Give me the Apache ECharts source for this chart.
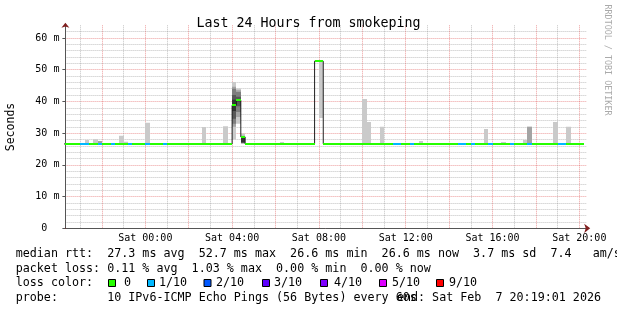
<!DOCTYPE html>
<html><head><meta charset="utf-8">
<script src="https://cdn.jsdelivr.net/npm/echarts@6/dist/echarts.min.js"></script>
<style>html,body{margin:0;padding:0;background:#fff}#c{width:617px;height:310px}</style>
</head><body><div id="c"></div>
<script>
// ---- time axis: hours relative to Sat 00:00 ----
const axisStart = -3.683;   // Fri 20:19:01
const axisEnd = 20.317;     // Sat 20:19:01
const stepH = 0.2;          // 12-minute consolidation step
const dataEnd = 20.2;

// ---- median RTT (ms), change points ----
const segStart  = [-3.8,-3.0,-2.6,-2.2,-2.0,-1.6,-1.4,-0.8,-0.6,0.0,0.2,0.8,1.0,4.0,4.2,4.4,4.6,7.8,8.2,11.4,11.8,12.2,12.4,14.4,14.8,15.0,15.2,15.8,16.0,16.8,17.0,17.6,17.8,19.0,19.4];
const segMedian = [26.6,26.6,26.6,26.6,26.6,26.6,26.6,26.6,26.6,26.6,26.6,26.6,26.6,38.8,40.4,28.8,26.6,52.7,26.6,26.6,26.6,26.6,26.6,26.6,26.6,26.6,26.6,26.6,26.6,26.6,26.6,26.6,26.6,26.6,26.6];
const segLoss   = [0,1,0,1,0,1,0,1,0,1,0,1,0,0,0,0,0,0,0,1,0,1,0,1,0,1,0,1,0,1,0,1,0,1,0];

// ---- smoke: 10 sorted ping times (ms) for steps with visible spread ----
const smokeStart = [-2.8,-2.4,-2.2,-1.2,-1.0,0.0,2.6,3.6,4.0,4.2,4.4,6.2,8.0,10.0,10.2,10.8,12.6,15.6,16.4,17.4,17.6,18.8,19.4];
const smokePings = [
  [26.6,26.6,26.6,26.6,26.6,26.6,26.6,26.6,26.6,27.8],
  [26.6,26.6,26.6,26.6,26.6,26.6,26.6,26.6,26.6,28.1],
  [26.6,26.6,26.6,26.6,26.6,26.6,26.6,26.6,27.5,27.5],
  [26.6,26.6,26.6,26.6,26.6,26.6,26.6,26.6,26.6,29.2],
  [26.6,26.6,26.6,26.6,26.6,26.6,26.6,26.6,26.6,27.3],
  [26.6,26.6,26.6,26.6,26.6,26.6,26.6,26.6,26.6,33.3],
  [26.6,26.6,26.6,26.6,26.6,26.6,26.6,26.6,26.6,31.9],
  [26.6,26.6,26.6,26.6,26.6,26.6,26.6,26.6,26.6,32.2],
  [28.0,32.0,33.0,34.5,37.0,40.5,42.0,44.0,44.6,46.1],
  [33.0,35.1,36.7,38.5,40.0,40.8,41.5,43.0,43.5,44.1],
  [26.6,26.8,26.9,27.0,27.1,29.0,29.1,29.1,29.2,29.9],
  [26.6,26.6,26.6,26.6,26.6,26.6,26.6,26.6,26.6,27.2],
  [34.8,52.7,52.7,52.7,52.7,52.7,52.7,52.7,52.7,52.7],
  [26.6,26.6,26.6,26.6,26.6,26.6,26.6,26.6,26.6,40.8],
  [26.6,26.6,26.6,26.6,26.6,26.6,26.6,26.6,26.6,33.5],
  [26.6,26.6,26.6,26.6,26.6,26.6,26.6,26.6,26.6,32.0],
  [26.6,26.6,26.6,26.6,26.6,26.6,26.6,26.6,26.6,27.5],
  [26.6,26.6,26.6,26.6,26.6,26.6,26.6,26.6,26.6,31.3],
  [26.6,26.6,26.6,26.6,26.6,26.6,26.6,26.6,26.6,27.2],
  [26.6,26.6,26.6,26.6,26.6,26.6,26.6,26.6,26.6,27.8],
  [26.6,26.6,26.6,26.6,26.6,26.6,26.6,26.6,32.0,32.0],
  [26.6,26.6,26.6,26.6,26.6,26.6,26.6,26.6,26.6,33.5],
  [26.6,26.6,26.6,26.6,26.6,26.6,26.6,26.6,26.6,32.0]
];

// ---- ticks / labels ----
const xMinorHours = [-3,-1,1,3,5,7,9,11,13,15,17,19];
const xMajorHours = [-2,0,2,4,6,8,10,12,14,16,18,20];
const xLabelHours = [0,4,8,12,16,20];
const xLabelText  = ['Sat 00:00','Sat 04:00','Sat 08:00','Sat 12:00','Sat 16:00','Sat 20:00'];
const yMinorTicks = [2,4,6,8,12,14,16,18,22,24,26,28,32,34,36,38,42,44,46,48,52,54,56,58,62];
const yLabelValues = [0,10,20,30,40,50,60];
const yLabelText   = ['0  ','10 m','20 m','30 m','40 m','50 m','60 m'];

// ---- legend ----
const lossColors = ['#26ff00','#00b8ff','#0059ff','#5e00ff','#7e00ff','#dd00ff','#ff0000'];
const lossLabels = ['0','1/10','2/10','3/10','4/10','5/10','9/10'];
const smokeShades = ['#cacaca','#a4a4a4','#7e7e7e','#585858','#323232'];

const line1 = 'median rtt:  27.3 ms avg  52.7 ms max  26.6 ms min  26.6 ms now  3.7 ms sd  7.4   am/s';
const line2 = 'packet loss: 0.11 % avg  1.03 % max  0.00 % min  0.00 % now';
const line3 = 'loss color:';
const line4 = 'probe:       10 IPv6-ICMP Echo Pings (56 Bytes) every 60s';
const line4r = 'end: Sat Feb  7 20:19:01 2026';

const MONO = "'DejaVu Sans Mono', monospace";
const chart = echarts.init(document.getElementById('c'), null, {renderer: 'canvas'});

const medianLine = segStart.map((t, i) => [t, segMedian[i]]);
medianLine.push([dataEnd, segMedian[segMedian.length - 1]]);
const lossSegs = segStart.map((t, i) => [t, i < segStart.length - 1 ? segStart[i + 1] : dataEnd, segMedian[i], segLoss[i]]);
const smokeData = smokeStart.map((t, i) => [t].concat(smokePings[i]));

const legendX = [108, 147, 203.5, 262, 320, 379, 436];
const legendTextX = [124, 159, 216, 274, 334, 392, 449];
const graphics = [
  {type:'text', x:11, y:127, rotation:Math.PI/2, style:{text:'Seconds', font:'11.5px ' + MONO, fill:'#000', align:'center', verticalAlign:'middle'}},
  {type:'text', x:607.5, y:60, rotation:-Math.PI/2, style:{text:'RRDTOOL / TOBI OETIKER', font:'8.4px ' + MONO, fill:'#aaaaaa', align:'center', verticalAlign:'middle'}},
  {type:'text', x:15.7, y:254, style:{text:line1, font:'11.7px ' + MONO, fill:'#000', verticalAlign:'middle'}},
  {type:'text', x:15.7, y:269, style:{text:line2, font:'11.7px ' + MONO, fill:'#000', verticalAlign:'middle'}},
  {type:'text', x:15.7, y:283, style:{text:line3, font:'11.7px ' + MONO, fill:'#000', verticalAlign:'middle'}},
  {type:'text', x:15.7, y:297.5, style:{text:line4, font:'11.7px ' + MONO, fill:'#000', verticalAlign:'middle'}},
  {type:'text', x:601, y:297.5, style:{text:line4r, font:'11.7px ' + MONO, fill:'#000', align:'right', verticalAlign:'middle'}}
];
lossColors.forEach((c, i) => {
  graphics.push({type:'rect', shape:{x:legendX[i] + 0.5, y:279.5, width:7, height:7}, style:{fill:c, stroke:'#000', lineWidth:1}});
  graphics.push({type:'text', x:legendTextX[i], y:283, style:{text:lossLabels[i], font:'11.7px ' + MONO, fill:'#000', verticalAlign:'middle'}});
});

const gridLine = (color, vals) => ({show:true, lineStyle:{color:color, type:[1,1], width:1}});
const option = {
  animation: false,
  backgroundColor: '#ffffff',
  title: {text:'Last 24 Hours from smokeping', left:'center', top:12, textStyle:{fontFamily:MONO, fontSize:13.3, fontWeight:'normal', color:'#000'}},
  grid: {left:65.4, right:30.8, top:25.3, bottom:81.7, outerBoundsMode:'none'},
  xAxis: [
    {type:'value', min:axisStart, max:axisEnd, position:'bottom',
     axisLine:{show:true, onZero:false, lineStyle:{color:'#555', width:1}},
     axisTick:{show:false, customValues:xMinorHours},
     axisLabel:{show:false},
     splitLine:{show:true, lineStyle:{color:'rgba(143,143,143,0.55)', type:[1,1]}}},
    {type:'value', min:axisStart, max:axisEnd, position:'bottom',
     axisLine:{show:true, onZero:false, symbol:['none','arrow'], symbolSize:[7,6], symbolOffset:[0,4], lineStyle:{color:'#801f1f', type:[0,100000]}},
     axisTick:{show:false, customValues:xMajorHours},
     axisLabel:{show:true, customValues:xLabelHours, margin:5, fontFamily:MONO, fontSize:10, color:'#000',
       formatter: v => xLabelText[xLabelHours.indexOf(Math.round(v))] || ''},
     splitLine:{show:true, lineStyle:{color:'rgba(222,79,79,0.55)', type:[1,1]}}}
  ],
  yAxis: [
    {type:'value', min:0, max:64, position:'left',
     axisLine:{show:true, onZero:false, lineStyle:{color:'#555', width:1}},
     axisTick:{show:false, customValues:yMinorTicks},
     axisLabel:{show:false},
     splitLine:{show:true, lineStyle:{color:'rgba(143,143,143,0.55)', type:[1,1]}}},
    {type:'value', min:0, max:64, position:'left',
     axisLine:{show:true, onZero:false, symbol:['none','arrow'], symbolSize:[6,5], symbolOffset:[0,2.5], lineStyle:{color:'#801f1f', type:[0,100000]}},
     axisTick:{show:true, length:3, customValues:yLabelValues, lineStyle:{color:'#555'}},
     axisLabel:{show:true, customValues:yLabelValues, margin:6, fontFamily:MONO, fontSize:10, color:'#000',
       formatter: v => yLabelText[yLabelValues.indexOf(Math.round(v))] || ''},
     splitLine:{show:true, lineStyle:{color:'rgba(222,79,79,0.55)', type:[1,1]}}}
  ],
  series: [
    {type:'custom', name:'smoke', xAxisIndex:0, yAxisIndex:0, z:2, clip:true,
     encode:{x:0, y:[1,2,3,4,5,6,7,8,9,10]},
     data: smokeData,
     renderItem: (params, api) => {
       const t = api.value(0);
       const x0 = Math.round(api.coord([t, 0])[0]);
       const x1 = Math.round(api.coord([t + stepH, 0])[0]);
       const children = [];
       for (let i = 0; i < 5; i++) {
         const lo = api.value(1 + i), hi = api.value(10 - i);
         const yTop = api.coord([t, hi])[1], yBot = api.coord([t, lo])[1];
         if (yBot - yTop < 0.01) continue;
         children.push({type:'rect', shape:{x:x0, y:yTop, width:x1 - x0, height:yBot - yTop}, style:{fill:smokeShades[i]}});
       }
       return {type:'group', children};
     }},
    {type:'line', name:'median', xAxisIndex:0, yAxisIndex:0, z:3, step:'end', symbol:'none',
     data: medianLine, lineStyle:{color:'#202020', width:1}},
    {type:'custom', name:'loss', xAxisIndex:0, yAxisIndex:0, z:4, clip:true,
     encode:{x:[0,1], y:2},
     data: lossSegs,
     renderItem: (params, api) => {
       const a = api.coord([api.value(0), api.value(2)]);
       const b = api.coord([api.value(1), api.value(2)]);
       return {type:'rect', shape:{x:Math.round(a[0]), y:Math.round(a[1]) - 1, width:Math.round(b[0]) - Math.round(a[0]), height:2},
               style:{fill:lossColors[api.value(3)]}};
     }}
  ],
  graphic: graphics
};
chart.setOption(option);
</script></body></html>
